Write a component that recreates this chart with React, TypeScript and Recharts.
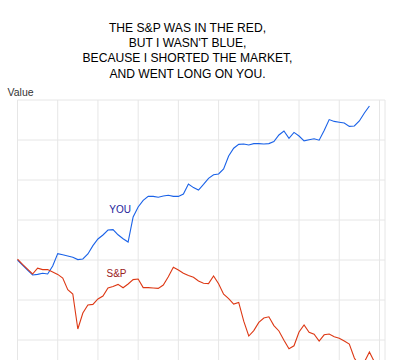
import React from "react";
import { LineChart, Line, XAxis, YAxis, CartesianGrid, Customized } from "recharts";

// index values, one point per trading step
const YOU = [
  100, 98.75, 97.5, 96.25, 96.4, 96.7, 96.5, 98.5, 101.6, 101.3,
  101, 100.7, 100.1, 100.25, 101.5, 103.6, 105.25, 106.25, 107.5, 107.6,
  106.3, 105.3, 104.5, 110.75, 113.25, 114.9, 115.9, 115.9, 115.7, 116,
  116.2, 115.9, 115.9, 116.5, 119, 118.1, 117.5, 118.9, 120.4, 121.3,
  121.5, 122.75, 126, 127.95, 128.9, 129, 128.75, 129.1, 129.1, 129,
  129.1, 129.6, 131.25, 132.25, 130.4, 131.9, 131, 129.8, 130.05, 130.3,
  129.95, 132.4, 135.1, 134.65, 134.45, 134.25, 133.4, 133.5, 134.75, 136.75,
  138.5,
];

const SP = [
  100.2, 98.9, 97.7, 96.5, 97.95, 97.6, 97.6, 97, 96.4, 95.5,
  92.6, 91.5, 82.75, 86.75, 88.75, 88.9, 90.25, 91, 93, 93.4,
  93.9, 93.05, 94, 95.1, 95.25, 93.1, 93.1, 93, 92.9, 93.75,
  95.8, 98.2, 97.5, 96.7, 96.1, 95.7, 94.75, 94.2, 94.1, 96,
  94.05, 91.45, 90.35, 89, 89.4, 84.7, 81, 82.35, 84.4, 85.5,
  85.8, 83.6, 82.25, 79.95, 77.8, 78.55, 82, 83.75, 81.95, 81.45,
  79.75, 81.3, 81.5, 80.8, 80.45, 79.75, 79, 75.5, 73.5, 74.5,
  77, 74.5,
];

const X_TICKS = [0, 8, 16, 24, 32, 40, 48, 56, 64, 72];
const Y_TICKS = [70, 80, 90, 100, 110, 120, 130, 140];
const TITLE = [
  "THE S&P WAS IN THE RED,",
  "BUT I WASN'T BLUE,",
  "BECAUSE I SHORTED THE MARKET,",
  "AND WENT LONG ON YOU.",
];

const data = SP.map((v, i) => ({ t: i, sp: v, you: i < YOU.length ? YOU[i] : null }));

const FONT = "'Liberation Sans', Arial, Helvetica, sans-serif";
const hiddenTick = { fill: "transparent", fontSize: 1 };

const Texts = () => (
  <g fontFamily={FONT}>
    {TITLE.map((line, i) => (
      <text key={i} x={187.5} y={32 + i * 15.2} textAnchor="middle" fontSize={12.1} fill="#000">
        {line}
      </text>
    ))}
    <text x={7.5} y={95.5} fontSize={10.5} fill="#333">Value</text>
    <text x={109.3} y={213} fontSize={10} fill="#22229a">YOU</text>
    <text x={106.5} y={276.5} fontSize={10} fill="#9a2222">S&amp;P</text>
  </g>
);

export default function App() {
  return (
    <div style={{ position: "absolute", left: 0, top: 0, width: 401, height: 360, overflow: "hidden", background: "#fff" }}>
      <LineChart width={401} height={380} data={data} margin={{ top: 100, right: 16, bottom: 0, left: 17.5 }}>
        <CartesianGrid stroke="#e6e6e6" strokeWidth={1} />
        <XAxis
          dataKey="t"
          type="number"
          domain={[0, 73.1]}
          ticks={X_TICKS}
          tick={hiddenTick}
          tickLine={false}
          axisLine={false}
          height={0}
        />
        <YAxis
          type="number"
          domain={[70, 140]}
          ticks={Y_TICKS}
          tick={hiddenTick}
          tickLine={false}
          axisLine={{ stroke: "#000", strokeWidth: 1 }}
          width={0}
        />
        <Line type="linear" dataKey="you" stroke="#1a62e8" strokeWidth={1.1} dot={false} isAnimationActive={false} />
        <Line type="linear" dataKey="sp" stroke="#dd3814" strokeWidth={1.1} dot={false} isAnimationActive={false} />
        <Customized component={Texts} />
      </LineChart>
    </div>
  );
}
